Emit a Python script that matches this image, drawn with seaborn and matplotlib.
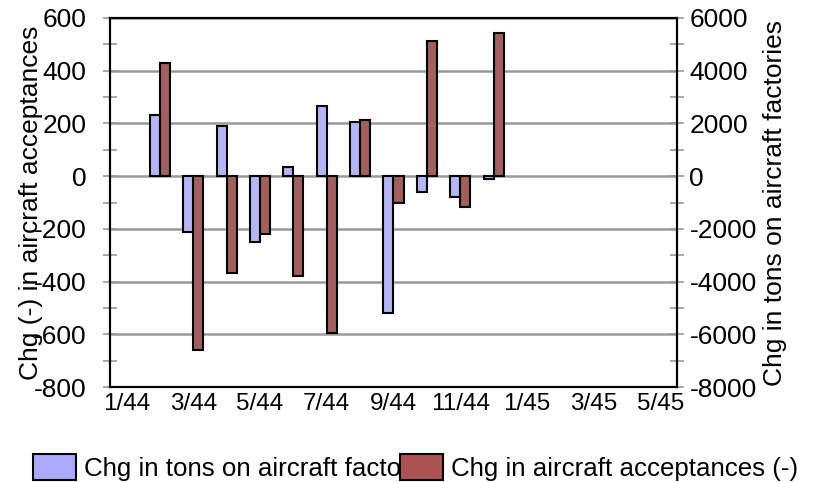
import matplotlib
matplotlib.use("Agg")
import matplotlib.pyplot as plt
from matplotlib.patches import Patch
import seaborn as sns
import pandas as pd
import numpy as np

# months on the category axis (1/44 .. 5/45)
months = ["1/44", "2/44", "3/44", "4/44", "5/44", "6/44", "7/44", "8/44", "9/44",
          "10/44", "11/44", "12/44", "1/45", "2/45", "3/45", "4/45", "5/45"]
tick_labels = [m if i % 2 == 0 else "" for i, m in enumerate(months)]

data_months = ["2/44", "3/44", "4/44", "5/44", "6/44", "7/44", "8/44", "9/44",
               "10/44", "11/44", "12/44"]
tons = [2330, -2130, 1890, -2500, 350, 2650, 2070, -5190, -600, -790, -100]
acceptances = [428, -660, -368, -220, -379, -596, 212, -101, 514, -117, 542]

name_tons = "Chg in tons on aircraft factories"
name_acc = "Chg in aircraft acceptances (-)"
blue = "#aaaaff"
red = "#ac5453"

df_tons = pd.DataFrame({"month": data_months, "value": tons, "series": name_tons})
df_acc = pd.DataFrame({"month": data_months, "value": acceptances, "series": name_acc})

sns.set_style("white")
plt.rcParams["font.family"] = ["Liberation Sans", "DejaVu Sans"]
plt.rcParams["axes.unicode_minus"] = False
plt.rcParams["text.color"] = "black"
plt.rcParams["axes.labelcolor"] = "black"

fig, ax = plt.subplots(figsize=(8.18, 4.82), dpi=100)
ax2 = ax.twinx()

hue_order = [name_tons, name_acc]
pal = {name_tons: blue, name_acc: red}
sns.barplot(data=df_tons, x="month", y="value", hue="series", hue_order=hue_order,
            order=months, palette=pal, dodge=True, width=0.6, ax=ax2,
            edgecolor="black", linewidth=1.5, errorbar=None, legend=False)
sns.barplot(data=df_acc, x="month", y="value", hue="series", hue_order=hue_order,
            order=months, palette=pal, dodge=True, width=0.6, ax=ax,
            edgecolor="black", linewidth=1.5, errorbar=None, legend=False)

ax.set_ylim(-800, 600)
ax2.set_ylim(-8000, 6000)
ax.set_xlim(-0.5, len(months) - 0.5)
ax.set_yticks(np.arange(-800, 601, 200))
ax.set_yticks(np.arange(-800, 601, 100), minor=True)
ax2.set_yticks(np.arange(-8000, 6001, 2000))
ax2.set_yticks(np.arange(-8000, 6001, 1000), minor=True)
ax.set_xticks(np.arange(len(months)) - 0.5, minor=True)
ax.set_xticks(np.arange(len(months)))
ax.set_xticklabels(tick_labels)
ax.tick_params(axis="x", which="major", length=0, pad=4, labelsize=17.5, labelcolor="black")
ax.tick_params(axis="x", which="minor", direction="inout", length=10, width=1.2, color="#999999")
for a in (ax, ax2):
    a.tick_params(axis="y", which="both", direction="inout", width=1.2, color="#999999",
                  labelsize=19, labelcolor="black", length=10)
ax.tick_params(axis="y", which="major", pad=12)
ax2.tick_params(axis="y", which="major", pad=4)
for a in (ax, ax2):
    for s in a.spines.values():
        s.set_color("black")
        s.set_linewidth(1.5)
ax.grid(axis="y", which="major", color="#999999", linewidth=1.8)
ax.set_axisbelow(True)
ax2.grid(False)
ax.set_xlabel("")
ax.set_ylabel("Chg (-) in aircraft acceptances", fontsize=19)
ax2.set_ylabel("Chg in tons on aircraft factories", fontsize=19)
ax.yaxis.set_label_coords(-0.118, 0.5)
ax2.yaxis.set_label_coords(1.152, 0.5)

# legend: the second patch covers the end of the first label, as in the source
handles = [Patch(facecolor=blue, edgecolor="black", linewidth=1.5),
           Patch(facecolor=red, edgecolor="black", linewidth=1.5)]
fig.legend(handles, hue_order, loc="lower left", bbox_to_anchor=(32 / 818, 0.0), ncol=2,
           frameon=False, fontsize=18.6, handlelength=1.66, handleheight=1.19,
           handletextpad=0.3, columnspacing=-1.65, borderpad=0.05, borderaxespad=0)

fig.subplots_adjust(left=0.1345, right=0.8276, top=0.9627, bottom=0.197)
fig.savefig("out.png", dpi=100)
